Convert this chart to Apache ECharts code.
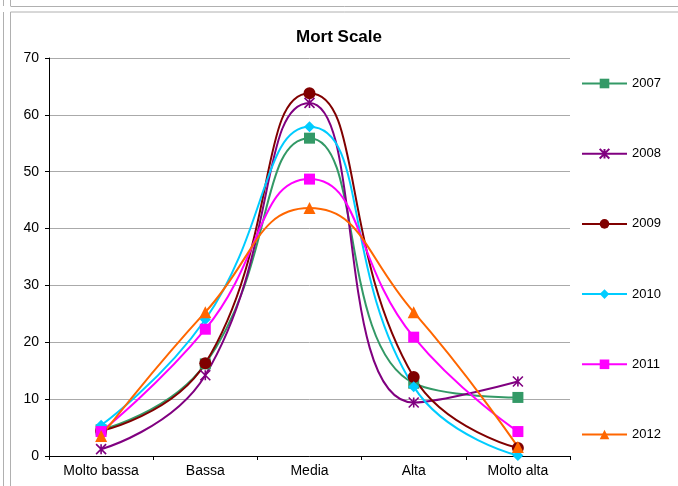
<!DOCTYPE html>
<html lang="it">
<head>
<meta charset="UTF-8">
<script src="https://cdn.jsdelivr.net/npm/echarts@6/dist/echarts.min.js"></script>
<title>Mort Scale</title>
<style>
  html, body { margin: 0; padding: 0; background: #fff; }
  #main { width: 678px; height: 486px; }
</style>
</head>
<body>
<div id="main"></div>
<script>
// categories and values
var categories = ['Molto bassa', 'Bassa', 'Media', 'Alta', 'Molto alta'];
var years = ['2007', '2008', '2009', '2010', '2011', '2012'];
var v2007 = [4.6, 16.2, 55.9, 12.8, 10.3];
var v2008 = [1.2, 14.2, 62.1, 9.4, 13.1];
var v2009 = [4.4, 16.3, 63.8, 13.9, 1.4];
var v2010 = [5.4, 24.0, 57.9, 12.2, 0.1];
var v2011 = [4.3, 22.3, 48.7, 20.9, 4.3];
var v2012 = [3.5, 25.3, 43.6, 25.3, 1.6];

var values = [v2007, v2008, v2009, v2010, v2011, v2012];
var colors = ['#339966', '#800080', '#800000', '#00ccff', '#ff00ff', '#ff6600'];
var symbols = ['rect', 'path://M0,0L10,10M10,0L0,10M5,0L5,10', 'circle', 'diamond', 'rect', 'triangle'];
var sizes = [11, 10, 12, 11, 11, 12];

var chart = echarts.init(document.getElementById('main'));

var series = years.map(function (y, i) {
  return {
    name: y,
    type: 'line',
    data: values[i],
    smooth: 0.5,
    symbol: symbols[i],
    symbolSize: sizes[i],
    showAllSymbol: true,
    lineStyle: { color: colors[i], width: 2 },
    itemStyle: {
      color: colors[i],
      borderColor: colors[i],
      borderWidth: i === 1 ? 1.6 : 0
    },
    emphasis: { disabled: true }
  };
});

var option = {
  animation: false,
  backgroundColor: '#fff',
  textStyle: { fontFamily: 'Liberation Sans, Arial, sans-serif' },
  color: colors,
  title: {
    text: 'Mort Scale',
    left: 'center',
    top: 24,
    textStyle: { fontSize: 17, fontWeight: 'bold', color: '#000', fontFamily: 'Liberation Sans, Arial, sans-serif' }
  },
  legend: {
    orient: 'vertical',
    left: 576,
    top: 72,
    itemWidth: 45,
    itemHeight: 12,
    itemGap: 57.2,
    textStyle: { fontSize: 13, color: '#000' },
    data: years
  },
  grid: { left: 49, right: 108, top: 58, bottom: 30 },
  xAxis: {
    type: 'category',
    data: categories,
    boundaryGap: true,
    axisLine: { lineStyle: { color: '#000', width: 1 } },
    axisTick: { show: true, length: 4, lineStyle: { color: '#000' } },
    axisLabel: { color: '#000', fontSize: 14, margin: 8 }
  },
  yAxis: {
    type: 'value',
    min: 0,
    max: 70,
    interval: 10,
    axisLine: { show: true, lineStyle: { color: '#000', width: 1 } },
    axisTick: { show: true, length: 4, lineStyle: { color: '#000' } },
    axisLabel: { color: '#000', fontSize: 14, margin: 10 },
    splitLine: { lineStyle: { color: '#aaaaaa', width: 1 } }
  },
  graphic: [
    { type: 'line', shape: { x1: 3.5, y1: 0, x2: 3.5, y2: 6 }, style: { stroke: '#b0b0b0', lineWidth: 1 } },
    { type: 'line', shape: { x1: 10.5, y1: 0, x2: 10.5, y2: 6 }, style: { stroke: '#b0b0b0', lineWidth: 1 } },
    { type: 'line', shape: { x1: 3.5, y1: 12, x2: 3.5, y2: 486 }, style: { stroke: '#b0b0b0', lineWidth: 1 } },
    { type: 'line', shape: { x1: 10.5, y1: 12, x2: 10.5, y2: 486 }, style: { stroke: '#b0b0b0', lineWidth: 1 } },
    { type: 'line', shape: { x1: 10.5, y1: 6.5, x2: 678, y2: 6.5 }, style: { stroke: '#b0b0b0', lineWidth: 1 } },
    { type: 'line', shape: { x1: 10.5, y1: 12, x2: 678, y2: 12 }, style: { stroke: '#b0b0b0', lineWidth: 1 } }
  ],
  series: series
};

chart.setOption(option);
</script>
</body>
</html>
